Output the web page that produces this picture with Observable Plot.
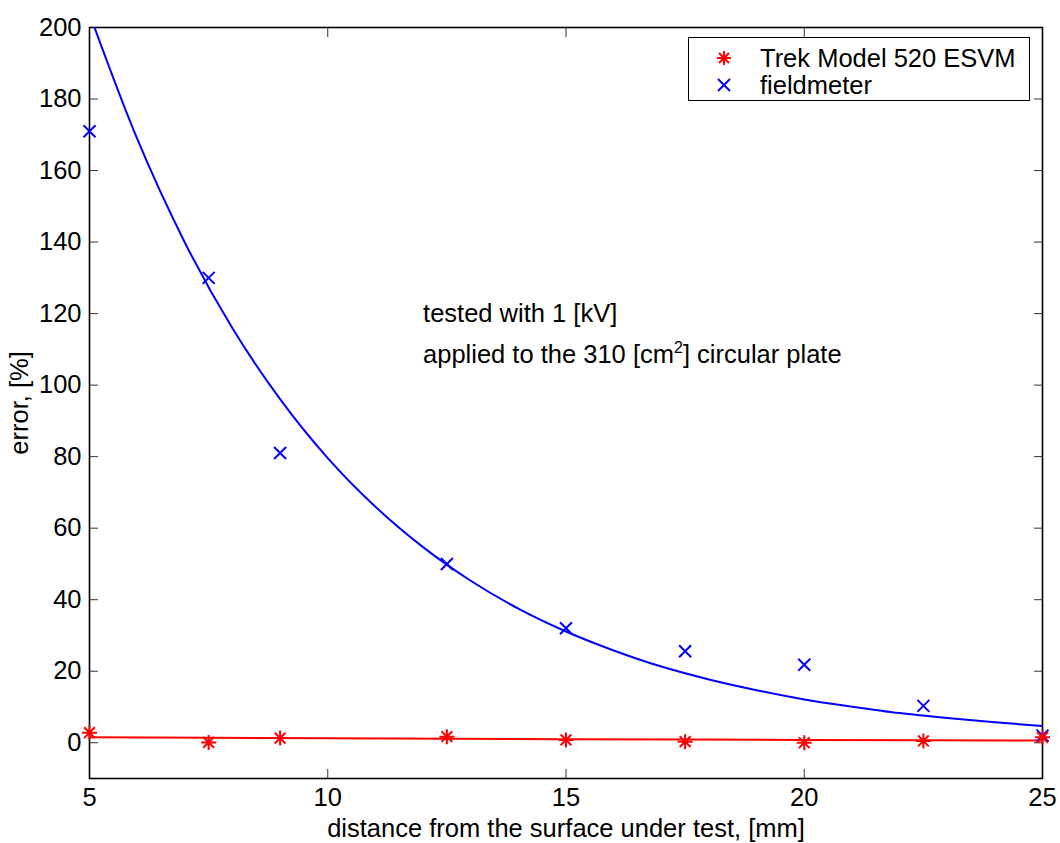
<!DOCTYPE html>
<html>
<head>
<meta charset="utf-8">
<script src="https://cdn.jsdelivr.net/npm/d3@7"></script>
<script src="https://cdn.jsdelivr.net/npm/@observablehq/plot@0.6"></script>
<style>
  body { margin: 0; background: white; }
  #wrap { position: relative; width: 1060px; height: 843px; font-family: "Liberation Sans", Arial, sans-serif; }
  #legend { position: absolute; left: 688px; top: 37px; width: 340px; height: 62px; border: 1px solid black; background: white; font-size: 25.5px; }
  #legend .row { position: absolute; left: 0; height: 26px; display: flex; align-items: center; white-space: nowrap; }
  #legend svg { margin-left: 24px; width: 22px; height: 22px; flex: none; }
  #legend span { margin-left: 25px; }
</style>
</head>
<body>
<div id="wrap"><div id="chart"></div>
  <div id="legend">
    <div class="row" style="top:7px"><svg viewBox="-11 -11 22 22"><g stroke="#ff0000" stroke-width="2"><line x1="-7" y1="0" x2="7" y2="0"/><line x1="0" y1="-7" x2="0" y2="7"/><line x1="-5" y1="-5" x2="5" y2="5"/><line x1="-5" y1="5" x2="5" y2="-5"/></g></svg><span>Trek Model 520 ESVM</span></div>
    <div class="row" style="top:34px"><svg viewBox="-11 -11 22 22"><g stroke="#0000ff" stroke-width="2"><line x1="-6" y1="-6" x2="6" y2="6"/><line x1="-6" y1="6" x2="6" y2="-6"/></g></svg><span>fieldmeter</span></div>
  </div>
</div>
<script>
// measured data
const distance = [5, 7.5, 9, 12.5, 15, 17.5, 20, 22.5, 25];
const fieldmeterError = [171, 130, 81, 50, 32, 25.6, 21.8, 10.3, 2];
const trekError = [2.8, 0.1, 1.3, 1.7, 0.8, 0.3, 0.0, 0.5, 1.5];

// fitted curves
const fitX = [5, 6, 7, 8, 9, 10, 11, 12, 13, 14, 15, 16, 17, 18, 19, 20, 21, 22, 23, 24, 25];
const fieldmeterFit = [203.8, 168.9, 139.9, 115.9, 96.1, 79.6, 66.0, 54.7, 45.3, 37.5, 31.1, 25.8, 21.3, 17.7, 14.7, 12.1, 10.1, 8.3, 6.9, 5.7, 4.7];
const trekFitX = [5, 10, 15, 20, 25];
const trekFit = [1.5, 1.25, 1.0, 0.8, 0.6];

const xTicks = [5, 10, 15, 20, 25];
const yTicks = [0, 20, 40, 60, 80, 100, 120, 140, 160, 180, 200];

const annotationX = 12;
const annotationLines = [
  {y: 120, text: "tested with 1 [kV]"},
  {y: 108.5, text: "applied to the 310 [cm²] circular plate"}
];

const fieldPts = distance.map((d, i) => ({x: d, y: fieldmeterError[i]}));
const trekPts = distance.map((d, i) => ({x: d, y: trekError[i]}));
const fieldLine = fitX.map((d, i) => ({x: d, y: fieldmeterFit[i]}));
const trekLine = trekFitX.map((d, i) => ({x: d, y: trekFit[i]}));

const asterisk = {
  draw(ctx, size) {
    const r = Math.sqrt(size / Math.PI);
    const d = r * 0.72;
    ctx.moveTo(-r, 0); ctx.lineTo(r, 0);
    ctx.moveTo(0, -r); ctx.lineTo(0, r);
    ctx.moveTo(-d, -d); ctx.lineTo(d, d);
    ctx.moveTo(-d, d); ctx.lineTo(d, -d);
  }
};
const cross = {
  draw(ctx, size) {
    const r = Math.sqrt(size / Math.PI);
    ctx.moveTo(-r, -r); ctx.lineTo(r, r);
    ctx.moveTo(-r, r); ctx.lineTo(r, -r);
  }
};

const chart = Plot.plot({
  width: 1060,
  height: 843,
  marginLeft: 89,
  marginRight: 18,
  marginTop: 27,
  marginBottom: 65,
  style: {fontFamily: "'Liberation Sans', Arial, sans-serif", fontSize: "25.5px", color: "black", background: "white", overflow: "visible"},
  x: {domain: [5, 25]},
  y: {domain: [-10, 200]},
  marks: [
    Plot.axisX(xTicks, {anchor: "bottom", tickSize: -9, tickPadding: 18, stroke: "#333", label: "distance from the surface under test, [mm]", labelAnchor: "center", labelArrow: "none", labelOffset: 58}),
    Plot.axisX(xTicks, {anchor: "top", tickSize: -9, tickFormat: () => "", stroke: "#333", label: null}),
    Plot.axisY(yTicks, {anchor: "left", tickSize: -9, tickPadding: 17, stroke: "#333", label: "error, [%]", labelAnchor: "center", labelArrow: "none", labelOffset: 80}),
    Plot.axisY(yTicks, {anchor: "right", tickSize: -9, tickFormat: () => "", stroke: "#333", label: null}),
    Plot.frame({stroke: "black", strokeWidth: 1.6}),
    Plot.line(fieldLine, {x: "x", y: "y", stroke: "#0000ff", strokeWidth: 2, curve: "monotone-x", clip: true}),
    Plot.line(trekLine, {x: "x", y: "y", stroke: "#ff0000", strokeWidth: 2, curve: "monotone-x"}),
    Plot.dot(fieldPts, {x: "x", y: "y", symbol: cross, r: 6, stroke: "#0000ff", strokeWidth: 2}),
    Plot.dot(trekPts, {x: "x", y: "y", symbol: asterisk, r: 7.5, stroke: "#ff0000", strokeWidth: 2}),
    Plot.text(annotationLines, {x: annotationX, y: "y", text: "text", textAnchor: "start", lineAnchor: "middle", fontSize: 25.5, fill: "black"})
  ]
});
document.getElementById("chart").appendChild(chart);

// render the superscript as a real raised "2"
d3.select(chart).selectAll("text").each(function () {
  const t = this.textContent;
  if (t.includes("cm²")) {
    const [a, b] = t.split("²");
    const el = d3.select(this);
    el.text(null);
    el.append("tspan").text(a);
    el.append("tspan").attr("dy", "-10").attr("font-size", "16px").text("2");
    el.append("tspan").attr("dy", "10").text(b);
  }
});
</script>
</body>
</html>
